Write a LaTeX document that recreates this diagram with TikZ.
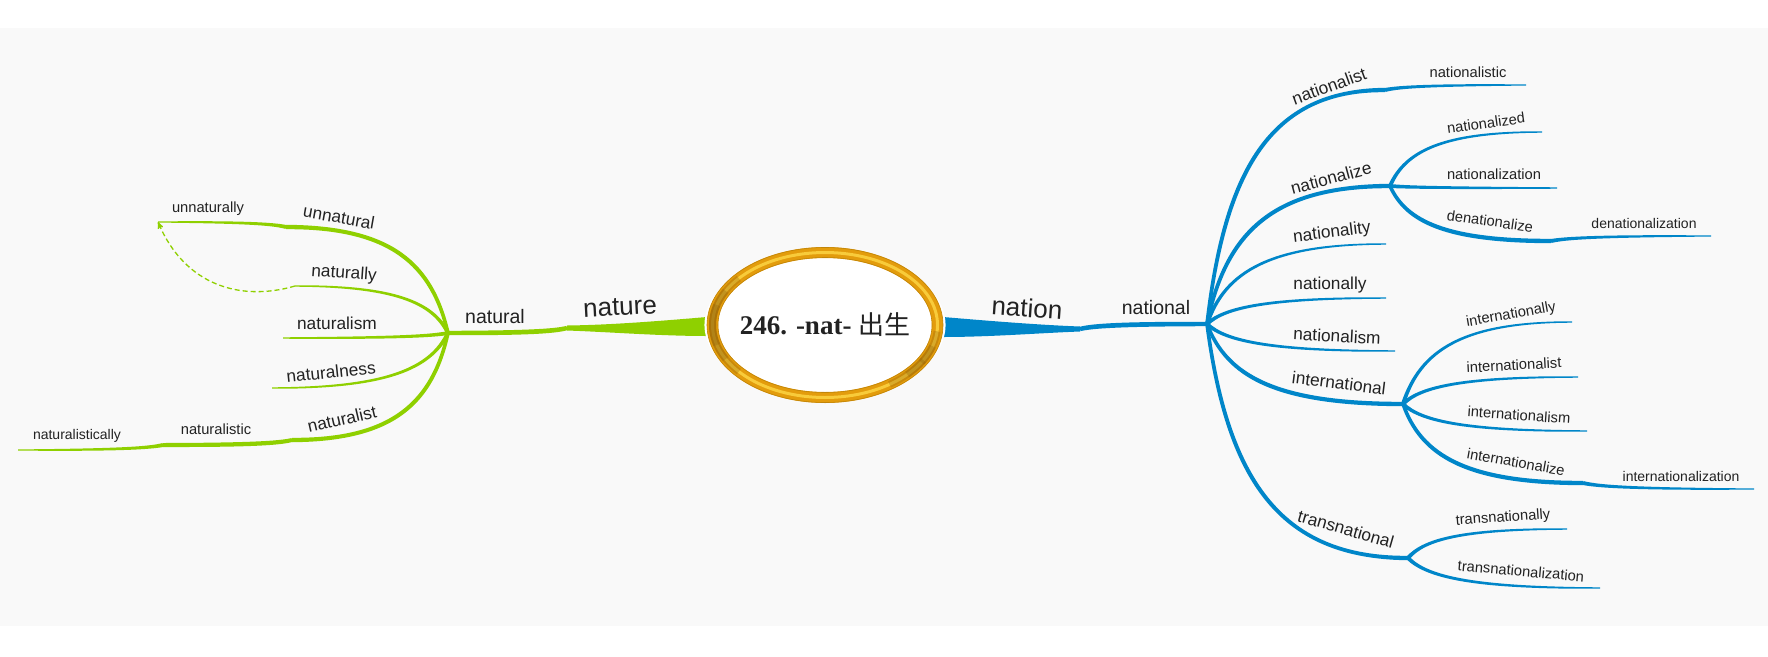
\documentclass[tikz,border=0pt]{standalone}
\usepackage{fontspec}
\setmainfont{Liberation Sans}
\newfontfamily\hubfont{Liberation Serif}
\newfontfamily\cjkfont{Noto Sans CJK SC}
\usetikzlibrary{arrows,calc,shapes.geometric}
\definecolor{bandgrey}{HTML}{F9F9F9}
\definecolor{leafgreen}{HTML}{8FD000}
\definecolor{leafblue}{HTML}{0086C9}
\definecolor{inkgrey}{HTML}{222222}
\definecolor{goldbase}{HTML}{E39C0C}
\definecolor{goldlight}{HTML}{F8CB3A}
\definecolor{golddark}{HTML}{8F5F08}
% tapered branch: colour, from, to, half width at start, half width at end
\newcommand{\twig}[5]{%
  \pgfmathsetmacro{\twigmid}{(#4+#5)*.55}
  \coordinate (u) at ($(#2)!.1!(#3)$);
  \coordinate (v) at ($(#2)!.65!(#3)$);
  \coordinate (w) at ($(#2)!.35!(#3)$);
  \coordinate (c1) at (u |- v);
  \coordinate (c2) at (w |- #3);
  \fill[#1] ($(#2)!#4pt!90:(c1)$)
    .. controls ($(c1)!\twigmid pt!90:(c2)$) and ($(c2)!\twigmid pt!-90:(c1)$) .. ($(#3)!#5pt!-90:(c2)$)
    -- ($(#3)!#5pt!90:(c2)$)
    .. controls ($(c2)!\twigmid pt!90:(c1)$) and ($(c1)!\twigmid pt!-90:(c2)$) .. ($(#2)!#4pt!-90:(c1)$)
    -- cycle;
}
\begin{document}
\begin{tikzpicture}[x=1pt,y=-1pt,>=stealth']
\tikzset{
    word0/.style={font=\fontsize{26}{30}\selectfont, text=inkgrey, inner sep=0pt},
    word1/.style={font=\fontsize{19.5}{23}\selectfont, text=inkgrey, inner sep=0pt},
    word2/.style={font=\fontsize{17.3}{20}\selectfont, text=inkgrey, inner sep=0pt},
    word3/.style={font=\fontsize{14.7}{17}\selectfont, text=inkgrey, inner sep=0pt},
    word4/.style={font=\fontsize{14}{16}\selectfont, text=inkgrey, inner sep=0pt},
    hubface/.style={%
        fill=white,
        ellipse,
        inner sep=0pt, outer sep=0pt,
        minimum width=226pt,
        minimum height=145pt
        },
}
\useasboundingbox (0,0) rectangle (1768,656);
\fill[bandgrey] (0,28) rectangle (1768,626);
%%%JOINTS
\coordinate (wedgeL) at (567,328);
\coordinate (wedgeR) at (1080,329);
\coordinate (jNatural) at (448,333);
\coordinate (jUnnatural) at (286,227);
\coordinate (eUnnaturally) at (158,222);
\coordinate (eNaturally) at (295,286);
\coordinate (eNaturalism) at (283,338);
\coordinate (eNaturalness) at (272,388);
\coordinate (jNaturalist) at (292,440);
\coordinate (jNaturalistic) at (163,445);
\coordinate (eNaturalistically) at (18,450);
\coordinate (jNational) at (1207,324);
\coordinate (jNationalist) at (1385,90);
\coordinate (eNationalistic) at (1526,85);
\coordinate (jNationalize) at (1390,186);
\coordinate (eNationalized) at (1542,132);
\coordinate (eNationalization) at (1557,188);
\coordinate (jDenationalize) at (1551,241);
\coordinate (eDenationalization) at (1711,236);
\coordinate (eNationality) at (1386,244);
\coordinate (eNationally) at (1386,298);
\coordinate (eNationalism) at (1395,351);
\coordinate (jInternational) at (1403,404);
\coordinate (eInternationally) at (1572,322);
\coordinate (eInternationalist) at (1578,377);
\coordinate (eInternationalism) at (1587,431);
\coordinate (jInternationalize) at (1583,483);
\coordinate (eInternationalization) at (1754,489);
\coordinate (jTransnational) at (1408,558);
\coordinate (eTransnationally) at (1567,529);
\coordinate (eTransnationalization) at (1600,588);
%%%CENTRE
\fill[leafgreen] (707,317) .. controls (660,321) and (610,325) .. ($(wedgeL)+(0,-2.5)$)
    -- ($(wedgeL)+(0,2.5)$) .. controls (610,332) and (660,336) .. (707,336) -- cycle;
\fill[leafblue] (943,317) .. controls (990,321) and (1040,325) .. ($(wedgeR)+(0,-2.5)$)
    -- ($(wedgeR)+(0,2.5)$) .. controls (1040,333) and (990,337) .. (943,337) -- cycle;
\node[hubface] (hub) at (825,325) {\hubfont\fontsize{27}{30}\selectfont\color{inkgrey}\bfseries 246. -nat- \mdseries\cjkfont\fontsize{26}{30}\selectfont 出生\hspace{5pt}};
\draw[goldbase, line width=11pt] (hub.center) ellipse [x radius=112.5, y radius=72.5];
\draw[goldlight, line width=3pt] (hub.center) ellipse [x radius=112.5, y radius=72.5];
\foreach \sweep in {0,12,24}{
  \draw[golddark, line width=7pt, opacity=.3] (hub.center) ++({112.5*cos(140+\sweep)},{-72.5*sin(140+\sweep)})
     arc [start angle=140+\sweep, end angle=220-\sweep, x radius=112.5, y radius=-72.5];
  \draw[golddark, line width=7pt, opacity=.3] (hub.center) ++({112.5*cos(305+\sweep)},{-72.5*sin(305+\sweep)})
     arc [start angle=305+\sweep, end angle=355-\sweep, x radius=112.5, y radius=-72.5];
}
\draw[goldbase!85!black, line width=.6pt] (hub.center) ellipse [x radius=107, y radius=67.5];
\draw[goldbase!85!black, line width=.6pt] (hub.center) ellipse [x radius=118, y radius=77.5];
%%%GREEN BRANCHES
\twig{leafgreen}{wedgeL}{jNatural}{2.2}{2.2}
\twig{leafgreen}{jNatural}{jUnnatural}{1.8}{2.2}
\twig{leafgreen}{jUnnatural}{eUnnaturally}{2}{.6}
\twig{leafgreen}{jNatural}{eNaturally}{2}{.7}
\twig{leafgreen}{jNatural}{eNaturalism}{2}{.7}
\twig{leafgreen}{jNatural}{eNaturalness}{2}{.7}
\twig{leafgreen}{jNatural}{jNaturalist}{1.8}{2.2}
\twig{leafgreen}{jNaturalist}{jNaturalistic}{2}{2}
\twig{leafgreen}{jNaturalistic}{eNaturalistically}{2}{.6}
\draw[->, leafgreen, dash pattern=on 5pt off 3pt, line width=1.3pt] (eNaturally) .. controls (240,302) and (185,285) .. (eUnnaturally);
%%%BLUE BRANCHES
\twig{leafblue}{wedgeR}{jNational}{2.2}{2.2}
\twig{leafblue}{jNational}{jNationalist}{1.8}{2.2}
\twig{leafblue}{jNationalist}{eNationalistic}{2}{.6}
\twig{leafblue}{jNational}{jNationalize}{1.8}{2.2}
\twig{leafblue}{jNationalize}{eNationalized}{2}{.7}
\twig{leafblue}{jNationalize}{eNationalization}{2}{.7}
\twig{leafblue}{jNationalize}{jDenationalize}{1.8}{2.2}
\twig{leafblue}{jDenationalize}{eDenationalization}{2}{.6}
\twig{leafblue}{jNational}{eNationality}{2}{.7}
\twig{leafblue}{jNational}{eNationally}{2}{.7}
\twig{leafblue}{jNational}{eNationalism}{2}{.7}
\twig{leafblue}{jNational}{jInternational}{1.8}{2.2}
\twig{leafblue}{jInternational}{eInternationally}{2}{.7}
\twig{leafblue}{jInternational}{eInternationalist}{2}{.7}
\twig{leafblue}{jInternational}{eInternationalism}{2}{.7}
\twig{leafblue}{jInternational}{jInternationalize}{1.8}{2.2}
\twig{leafblue}{jInternationalize}{eInternationalization}{2}{.6}
\twig{leafblue}{jNational}{jTransnational}{1.8}{2.2}
\twig{leafblue}{jTransnational}{eTransnationally}{2}{.7}
\twig{leafblue}{jTransnational}{eTransnationalization}{2}{.7}
%%%LEFT WORDS
\node[word0, rotate=3] (nature) at (620,307) {nature};
\node[word1] (natural) at (495,317) {natural};
\node[word2, rotate=-10] (unnatural) at (339,217) {unnatural};
\node[word3] (unnaturally) at (208,209) {unnaturally};
\node[word2, rotate=-4] (naturally) at (344,274) {naturally};
\node[word2] (naturalism) at (337,323) {naturalism};
\node[word2, rotate=6] (naturalness) at (331,372) {naturalness};
\node[word2, rotate=13] (naturalist) at (342,419) {naturalist};
\node[word3] (naturalistic) at (216,429) {naturalistic};
\node[word4] (naturalistically) at (77,436) {naturalistically};
%%%RIGHT WORDS
\node[word0, rotate=-4] (nation) at (1027,308) {nation};
\node[word1] (national) at (1156,308) {national};
\node[word2, rotate=20] (nationalist) at (1329,86) {nationalist};
\node[word3] (nationalistic) at (1468,72) {nationalistic};
\node[word2, rotate=15] (nationalize) at (1331,178) {nationalize};
\node[word3, rotate=8] (nationalized) at (1486,123) {nationalized};
\node[word3] (nationalization) at (1494,174) {nationalization};
\node[word3, rotate=-8] (denationalize) at (1490,221) {denationalize};
\node[word4] (denationalization) at (1644,223) {denationalization};
\node[word2, rotate=7] (nationality) at (1332,233) {nationality};
\node[word2] (nationally) at (1330,285) {nationally};
\node[word2, rotate=-3] (nationalism) at (1337,336) {nationalism};
\node[word2, rotate=-7] (international) at (1339,383) {international};
\node[word3, rotate=10] (internationally) at (1511,315) {internationally};
\node[word3, rotate=3] (internationalist) at (1514,365) {internationalist};
\node[word3, rotate=-4] (internationalism) at (1519,415) {internationalism};
\node[word3, rotate=-10] (internationalize) at (1516,462) {internationalize};
\node[word4] (internationalization) at (1681,476) {internationalization};
\node[word2, rotate=-16] (transnational) at (1346,529) {transnational};
\node[word3, rotate=4] (transnationally) at (1503,518) {transnationally};
\node[word3, rotate=-5] (transnationalization) at (1521,571) {transnationalization};
\end{tikzpicture}
\end{document}
